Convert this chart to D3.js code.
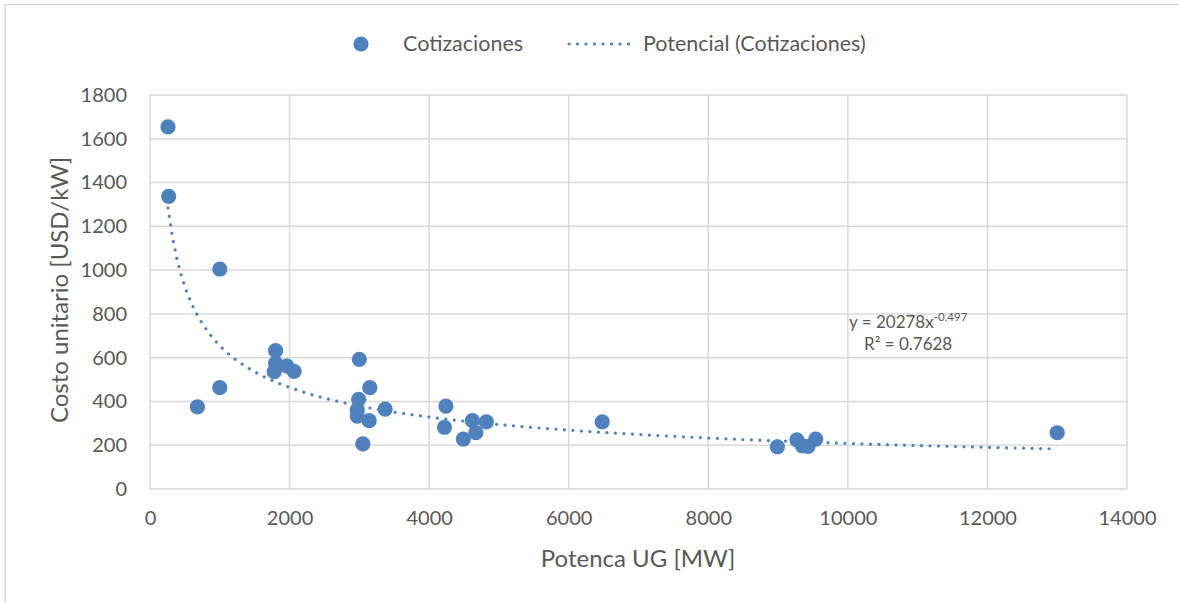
<!DOCTYPE html>
<html>
<head>
<meta charset="utf-8">
<script src="https://cdn.jsdelivr.net/npm/d3@7"></script>
<style>
  html, body { margin: 0; padding: 0; background: #ffffff; }
  svg { display: block; }
  text { font-family: Lato, "Open Sans", sans-serif; fill: #595959; }
</style>
</head>
<body>
<svg id="chart" width="1179" height="603"></svg>
<script>
// ---- Data ----
const potencia = [258, 268, 1000, 1000, 680, 1800, 1800, 1780, 1960, 2065,
                  3000, 3150, 2990, 2970, 2970, 3140, 3370, 3050,
                  4240, 4220, 4620, 4820, 4670, 4490, 6480,
                  8990, 9270, 9350, 9430, 9540, 13000];
const costo    = [1654, 1337, 1005, 463, 375, 632, 575, 536, 562, 537,
                  592, 463, 410, 361, 333, 312, 365, 206,
                  379, 282, 312, 307, 257, 228, 307,
                  193, 224, 197, 195, 228, 257];
const xTicks = [0, 2000, 4000, 6000, 8000, 10000, 12000, 14000];
const yTicks = [0, 200, 400, 600, 800, 1000, 1200, 1400, 1600, 1800];
// Power trendline shown on chart: y = 20278 x^-0.497, R² = 0.7628
const trendCoef = 20278;
const trendExp = -0.497;
const trendR2 = "0.7628";
const seriesName = "Cotizaciones";
const trendName = "Potencial (Cotizaciones)";

const color = "#4F81BD";
const grid = "#d9d9d9";

const svg = d3.select("#chart");

// chart frame
svg.append("rect").attr("x", 5).attr("y", 4.5).attr("width", 1200).attr("height", 700)
  .attr("fill", "none").attr("stroke", grid).attr("stroke-width", 1.5);

const x = d3.scaleLinear().domain([0, 14000]).range([150, 1127]);
const y = d3.scaleLinear().domain([0, 1800]).range([489, 95]);

// gridlines
svg.append("g").selectAll("line").data(yTicks).join("line")
  .attr("x1", x(0)).attr("x2", x(14000))
  .attr("y1", d => y(d)).attr("y2", d => y(d))
  .attr("stroke", grid).attr("stroke-width", 1.5);
svg.append("g").selectAll("line").data(xTicks).join("line")
  .attr("y1", y(0)).attr("y2", y(1800))
  .attr("x1", d => x(d)).attr("x2", d => x(d))
  .attr("stroke", grid).attr("stroke-width", 1.5);

// axes (labels only, via d3 axis)
const xAxis = svg.append("g").attr("transform", `translate(0,${y(0)})`)
  .call(d3.axisBottom(x).tickValues(xTicks).tickSize(0).tickPadding(22).tickFormat(d3.format("d")));
const yAxis = svg.append("g").attr("transform", `translate(${x(0)},0)`)
  .call(d3.axisLeft(y).tickValues(yTicks).tickSize(0).tickPadding(23).tickFormat(d3.format("d")));
[xAxis, yAxis].forEach(g => {
  g.select(".domain").remove();
  g.selectAll("text").attr("font-size", 20).attr("fill", "#595959")
    .attr("font-family", "Lato, 'Open Sans', sans-serif");
});

// trendline
const tx = d3.range(0, 201).map(i => d3.min(potencia) + (d3.max(potencia) - d3.min(potencia)) * i / 200);
const line = d3.line().x(d => x(d)).y(d => y(trendCoef * Math.pow(d, trendExp)));
svg.append("path").datum(tx).attr("d", line)
  .attr("fill", "none").attr("stroke", color).attr("stroke-width", 3.2)
  .attr("stroke-linecap", "round").attr("stroke-dasharray", "0.01,8.5");

// points
svg.append("g").selectAll("circle").data(potencia).join("circle")
  .attr("cx", d => x(d)).attr("cy", (d, i) => y(costo[i])).attr("r", 7.6)
  .attr("fill", color);

// equation
const eq = svg.append("text").attr("x", 849).attr("y", 328).attr("font-size", 17);
eq.append("tspan").text(`y = ${trendCoef}x`);
eq.append("tspan").attr("dy", -7).attr("font-size", 11.5).text(trendExp.toString());
svg.append("text").attr("x", 864).attr("y", 350).attr("font-size", 17).text(`R² = ${trendR2}`);

// axis titles
svg.append("text").attr("x", 638).attr("y", 567).attr("text-anchor", "middle")
  .attr("font-size", 24).text("Potenca UG [MW]");
svg.append("text").attr("transform", "translate(68,290) rotate(-90)").attr("text-anchor", "middle")
  .attr("font-size", 24).text("Costo unitario [USD/kW]");

// legend
svg.append("circle").attr("cx", 361).attr("cy", 44).attr("r", 7.6).attr("fill", color);
svg.append("text").attr("x", 403).attr("y", 51).attr("font-size", 21.5).text(seriesName);
svg.append("line").attr("x1", 569).attr("x2", 632).attr("y1", 44).attr("y2", 44)
  .attr("stroke", color).attr("stroke-width", 3.2).attr("stroke-linecap", "round")
  .attr("stroke-dasharray", "0.01,8.5");
svg.append("text").attr("x", 643).attr("y", 51).attr("font-size", 21.5).text(trendName);
</script>
</body>
</html>
